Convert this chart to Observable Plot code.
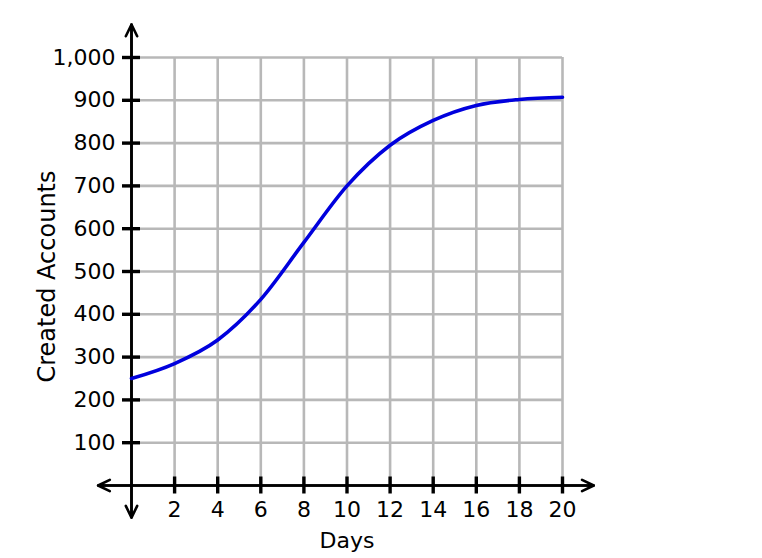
<!DOCTYPE html>
<html>
<head>
<meta charset="utf-8">
<script src="https://cdn.jsdelivr.net/npm/d3@7"></script>
<script src="https://cdn.jsdelivr.net/npm/@observablehq/plot@0.6"></script>
<style>
  html, body { margin: 0; padding: 0; background: #fff; }
</style>
</head>
<body>
<div id="chart"></div>
<script>
const days = [0, 2, 4, 6, 8, 10, 12, 14, 16, 18, 20];
const accounts = [250, 285, 340, 435, 568, 700, 795, 853, 888, 902, 907];
const xTicks = [2, 4, 6, 8, 10, 12, 14, 16, 18, 20];
const yTicks = [100, 200, 300, 400, 500, 600, 700, 800, 900, 1000];
const xAxisExtent = [-1.55, 21.45];
const yAxisExtent = [-75, 1077];

const series = days.map((d, i) => ({day: d, value: accounts[i]}));

const axisArrows = [
  {x1: xAxisExtent[0], y1: 0, x2: xAxisExtent[1], y2: 0},
  {x1: xAxisExtent[1], y1: 0, x2: xAxisExtent[0], y2: 0},
  {x1: 0, y1: yAxisExtent[0], x2: 0, y2: yAxisExtent[1]},
  {x1: 0, y1: yAxisExtent[1], x2: 0, y2: yAxisExtent[0]}
];

const chart = Plot.plot({
  width: 762,
  height: 558,
  marginTop: 57,
  marginRight: 200,
  marginBottom: 73,
  marginLeft: 131,
  style: {fontFamily: "DejaVu Sans", fontSize: "22px", background: "#fff", color: "#000"},
  x: {domain: [0, 20], axis: null},
  y: {domain: [0, 1000], axis: null},
  marks: [
    Plot.ruleX(xTicks, {stroke: "#b8b8b8", strokeWidth: 2.6}),
    Plot.ruleY(yTicks, {x1: 0, x2: 20, stroke: "#b8b8b8", strokeWidth: 2.6}),
    Plot.arrow(axisArrows, {x1: "x1", y1: "y1", x2: "x2", y2: "y2", stroke: "#000", strokeWidth: 2.6, headLength: 7.5, headAngle: 52}),
    Plot.ruleX(xTicks, {x: d => d, y1: 0, y2: 0, insetTop: -8.5, insetBottom: -8.5, stroke: "#000", strokeWidth: 3.4}),
    Plot.ruleY(yTicks, {y: d => d, x1: 0, x2: 0, insetLeft: -9, insetRight: -9, stroke: "#000", strokeWidth: 3.4}),
    Plot.axisX(xTicks, {anchor: "bottom", tickSize: 0, tickPadding: 16, label: null, fontSize: 22}),
    Plot.axisY(yTicks, {anchor: "left", tickSize: 0, tickPadding: 16, label: null, fontSize: 22}),
    Plot.line(series, {x: "day", y: "value", stroke: "#0000dd", strokeWidth: 3.6, curve: "monotone-x"}),
    Plot.text(["Days"], {frameAnchor: "bottom", lineAnchor: "bottom", dy: 62, fontSize: 22, fill: "#000"}),
    Plot.text(["Created Accounts"], {frameAnchor: "left", rotate: -90, textAnchor: "middle", lineAnchor: "middle", dx: -84, dy: 5, fontSize: 24, fill: "#000"})
  ]
});
document.getElementById("chart").appendChild(chart);
</script>
</body>
</html>
